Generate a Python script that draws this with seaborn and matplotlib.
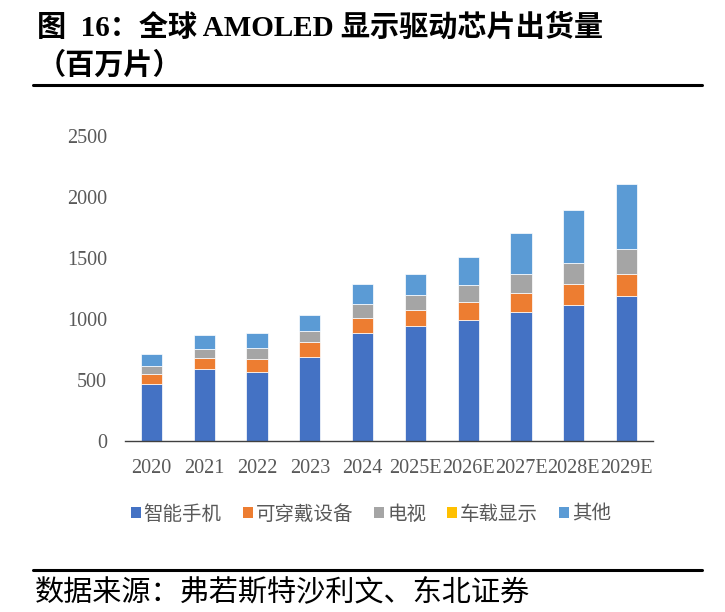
import numpy as np
import pandas as pd
from matplotlib import pyplot as plt
from matplotlib.patches import Patch
from matplotlib.lines import Line2D
import seaborn as sns

# data (million units)
years = ['2020', '2021', '2022', '2023', '2024', '2025E', '2026E', '2027E', '2028E', '2029E']
smartphone = [470, 588, 568, 691, 888, 943, 994, 1060, 1117, 1186]
wearable = [79, 95, 107, 123, 118, 128, 148, 150, 167, 180]
tv = [66, 71, 87, 90, 117, 123, 134, 159, 172, 204]
car = [0, 0, 0, 0, 1, 1, 2, 2, 3, 4]
other = [101, 117, 121, 129, 164, 177, 232, 333, 434, 535]

series_names = ['智能手机', '可穿戴设备', '电视', '车载显示', '其他']
series_colors = ['#4472C4', '#ED7D31', '#A5A5A5', '#FFC000', '#5B9BD5']

sns.set_style('white')
plt.rcParams['font.family'] = ['Noto Sans CJK SC', 'DejaVu Sans']

fig = plt.figure(figsize=(7.25, 6.12), dpi=100)
ax = fig.add_axes([125 / 725, 1 - 441 / 612, 528 / 725, 305 / 612])

# stacked bars, each layer sits on the running total of the ones below
df = pd.DataFrame({'year': years})
running = np.zeros(len(years))
for name, vals, col in zip(series_names, [smartphone, wearable, tv, car, other], series_colors):
    sns.barplot(x=df['year'], y=vals, bottom=running.copy(), color=col, saturation=1,
                width=0.4, edgecolor='white', linewidth=0.5, ax=ax)
    running = running + np.array(vals)

ax.set_xlim(-0.5, 9.5)
ax.set_ylim(0, 2500)
ax.set_yticks(range(0, 2501, 500))
ax.set_xlabel('')
ax.set_ylabel('')

for s in ['top', 'right', 'left']:
    ax.spines[s].set_visible(False)
ax.spines['bottom'].set_color('#404040')
ax.spines['bottom'].set_linewidth(1.0)

tick_font = {'family': 'Liberation Serif', 'size': 14.5}
ax.set_xticks(range(len(years)))
ax.set_xticklabels(years, fontdict=tick_font, color='#595959')
ax.set_yticklabels([str(v) for v in range(0, 2501, 500)], fontdict=tick_font, color='#595959')
ax.tick_params(axis='x', which='major', length=0, pad=13)
ax.tick_params(axis='y', length=0, pad=13)
ax.set_xticks(np.arange(-0.5, 10, 1), minor=True)
ax.tick_params(axis='x', which='minor', direction='in', length=4, width=1, color='#404040')

handles = [Patch(facecolor=c, edgecolor='none') for c in series_colors]
fig.legend(handles, series_names, loc='center', bbox_to_anchor=(371 / 725, 1 - 514 / 612),
           ncol=5, frameon=False, fontsize=14, handlelength=0.5, handleheight=0.5,
           handletextpad=0.15, columnspacing=1.1, labelcolor='#595959')

# title and rules
title_fam = ['Liberation Serif', 'Noto Sans CJK SC']
fig.text(37 / 725, 1 - 27 / 612, '图  16：全球 AMOLED 显示驱动芯片出货量', family=title_fam,
         fontsize=21, fontweight='bold', va='center', ha='left', color='black')
fig.text(37 / 725, 1 - 66 / 612, '（百万片）', family=title_fam,
         fontsize=21, fontweight='bold', va='center', ha='left', color='black')
fig.add_artist(Line2D([33 / 725, 702 / 725], [1 - 85 / 612, 1 - 85 / 612], color='black', linewidth=2.2))
fig.add_artist(Line2D([33 / 725, 702 / 725], [1 - 570 / 612, 1 - 570 / 612], color='black', linewidth=2.2))
fig.text(35 / 725, 1 - 592 / 612, '数据来源：弗若斯特沙利文、东北证券', fontsize=21,
         va='center', ha='left', color='black')

fig.savefig('out.png', dpi=100)
